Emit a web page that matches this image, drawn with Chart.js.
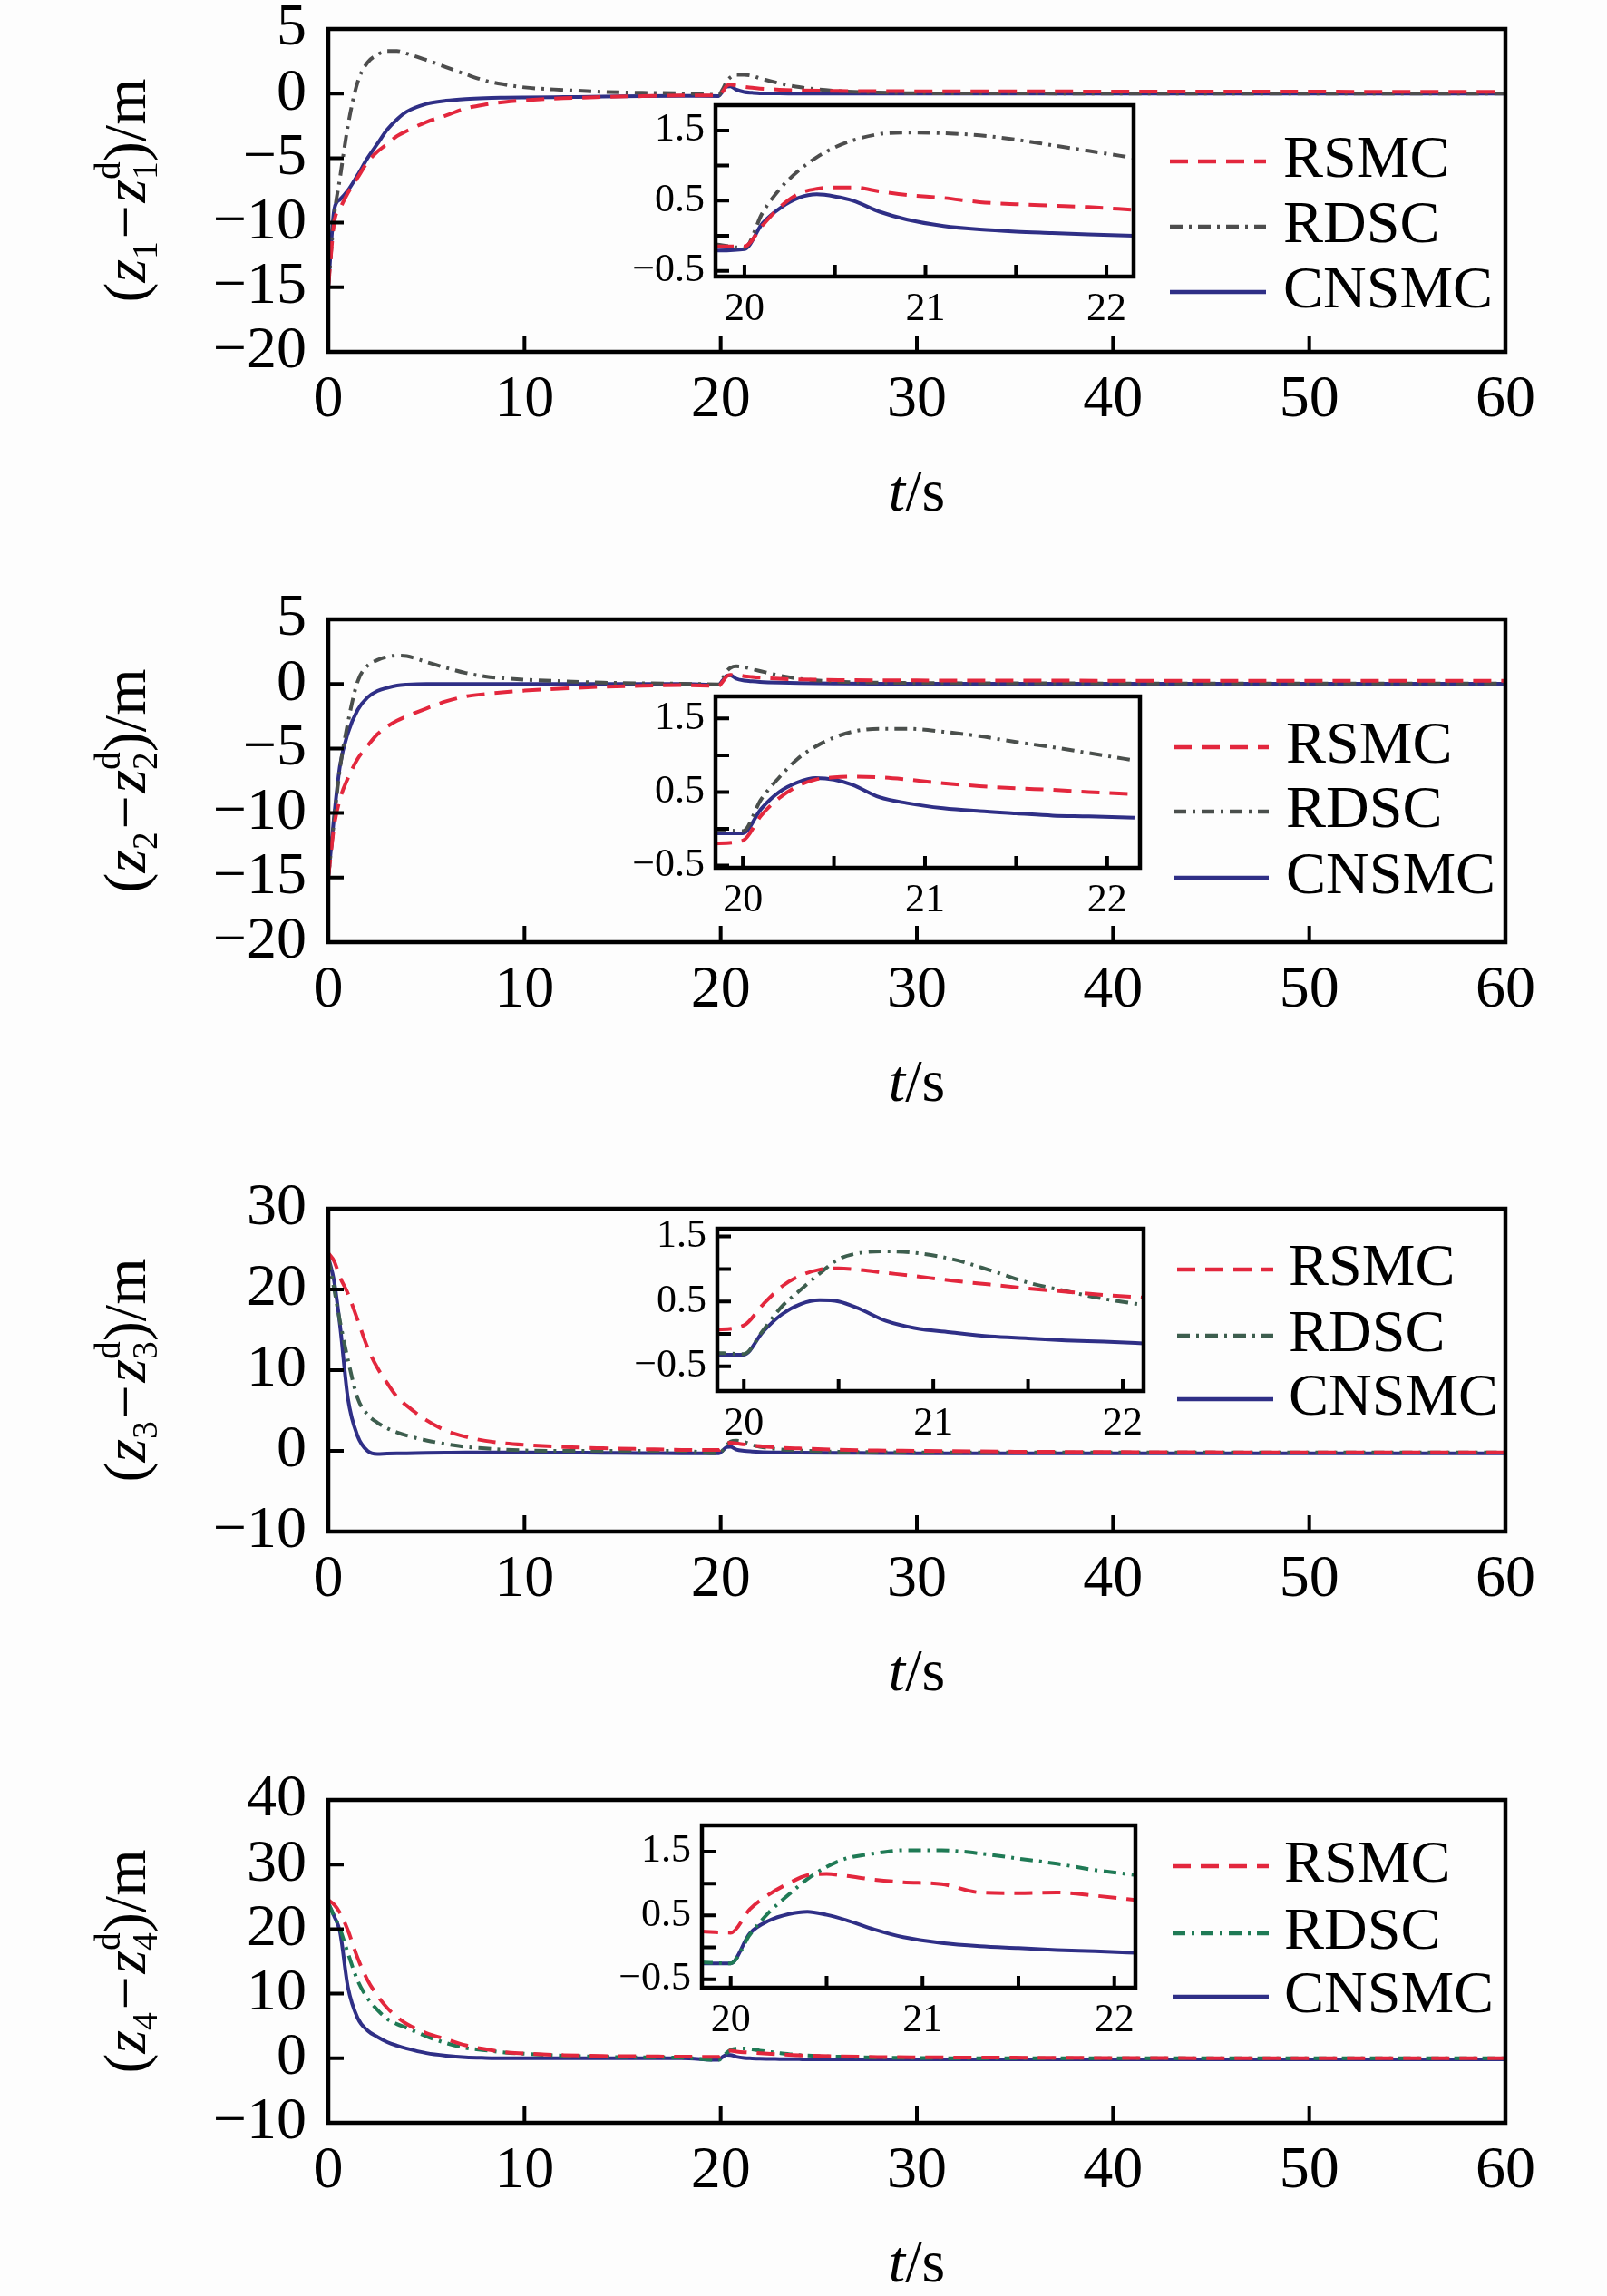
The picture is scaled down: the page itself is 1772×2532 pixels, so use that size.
<!DOCTYPE html>
<html>
<head>
<meta charset="utf-8">
<script src="https://cdn.jsdelivr.net/npm/chart.js@4.4.1/dist/chart.umd.min.js"></script>
<style>
html,body{margin:0;padding:0;background:#fdfdfd;}
#wrap{position:relative;width:1772px;height:2532px;overflow:hidden;background:#fdfdfd;}
#wrap canvas{position:absolute;}
</style>
</head>
<body>
<div id="wrap"></div>
<script>
// ---------------- DATA ----------------
const seriesNames = ['RSMC', 'RDSC', 'CNSMC'];
const tMain = [0, 0.3, 0.6, 1, 1.5, 2, 2.5, 3, 3.5, 4, 5, 6, 7, 8, 9, 10, 12, 14, 16, 18, 19.9, 20.1, 20.3, 20.5, 20.8, 21.2, 21.6, 22, 23, 24, 26, 28, 30, 35, 40, 45, 50, 55, 60];

const rsmc1 = [-15, -10, -8.9, -7.7, -6.5, -5.3, -4.5, -3.9, -3.3, -2.9, -2.2, -1.7, -1.15, -0.85, -0.65, -0.52, -0.36, -0.27, -0.2, -0.14, -0.15, 0.15, 0.6, 0.69, 0.62, 0.53, 0.45, 0.39, 0.3, 0.25, 0.2, 0.19, 0.18, 0.17, 0.16, 0.15, 0.15, 0.14, 0.14];
const rdsc1 = [-15, -9.5, -6.5, -2.5, 0.9, 2.4, 3.0, 3.3, 3.3, 3.1, 2.6, 2.05, 1.5, 1.0, 0.7, 0.48, 0.28, 0.13, 0.06, 0.02, -0.1, 0.33, 0.93, 1.26, 1.45, 1.45, 1.37, 1.18, 0.8, 0.5, 0.2, 0.08, 0.03, 0.01, 0, 0, 0, 0, 0];
const cnsmc1 = [-15, -9, -8.2, -7.5, -6.3, -5.0, -3.9, -2.8, -2.0, -1.4, -0.8, -0.55, -0.42, -0.35, -0.32, -0.3, -0.27, -0.24, -0.2, -0.18, -0.19, 0.18, 0.54, 0.56, 0.3, 0.12, 0.06, 0.02, 0.01, 0, 0, 0, 0, 0, 0, 0, 0, 0, 0];

const rsmc2 = [-15, -11, -8.9, -7.3, -5.8, -4.8, -3.9, -3.3, -2.85, -2.5, -1.9, -1.35, -0.97, -0.78, -0.63, -0.52, -0.35, -0.22, -0.15, -0.09, -0.16, 0.18, 0.58, 0.7, 0.69, 0.6, 0.54, 0.49, 0.4, 0.35, 0.3, 0.28, 0.27, 0.26, 0.25, 0.25, 0.25, 0.25, 0.25];
const rdsc2 = [-15, -10.5, -6.5, -3, 0.2, 1.4, 1.85, 2.1, 2.2, 2.15, 1.7, 1.25, 0.85, 0.58, 0.43, 0.33, 0.2, 0.1, 0.05, 0.02, -0.03, 0.4, 0.95, 1.24, 1.36, 1.3, 1.15, 1.0, 0.65, 0.4, 0.18, 0.1, 0.07, 0.05, 0.04, 0.04, 0.04, 0.04, 0.04];
const cnsmc2 = [-15, -10.2, -6.3, -3.8, -2.0, -1.05, -0.55, -0.3, -0.12, -0.05, 0, 0, 0, 0, 0, 0, 0, 0, 0, 0, -0.06, 0.27, 0.63, 0.67, 0.4, 0.26, 0.2, 0.16, 0.1, 0.06, 0.03, 0.02, 0.02, 0.02, 0.02, 0.02, 0.02, 0.02, 0.02];

const rsmc3 = [24.5, 23.5, 21.5, 19.5, 16.2, 12.8, 10.3, 8.4, 6.7, 5.6, 3.8, 2.5, 1.75, 1.25, 0.94, 0.75, 0.48, 0.33, 0.22, 0.12, 0.1, 0.45, 0.9, 1.0, 0.93, 0.8, 0.68, 0.58, 0.4, 0.3, 0.15, 0.05, 0, -0.1, -0.15, -0.18, -0.2, -0.2, -0.2];
const rdsc3 = [24, 20, 16, 11.3, 6.5, 4.5, 3.5, 2.8, 2.3, 1.9, 1.3, 0.85, 0.5, 0.3, 0.15, 0.05, 0, 0, 0, 0, -0.3, 0.05, 0.68, 1.15, 1.26, 1.1, 0.75, 0.5, 0.2, 0.05, -0.1, -0.15, -0.2, -0.2, -0.2, -0.2, -0.2, -0.2, -0.2];
const cnsmc3 = [24, 21, 15.5, 6.5, 1.8, 0, -0.4, -0.35, -0.32, -0.3, -0.25, -0.22, -0.2, -0.2, -0.2, -0.2, -0.22, -0.25, -0.28, -0.3, -0.32, 0.03, 0.46, 0.5, 0.15, 0, -0.08, -0.14, -0.2, -0.22, -0.25, -0.27, -0.3, -0.3, -0.3, -0.3, -0.3, -0.3, -0.3];

const rsmc4 = [24.5, 23.8, 22.5, 19.8, 15.5, 12.1, 9.7, 7.8, 6.4, 5.3, 3.9, 2.95, 2.0, 1.4, 0.93, 0.75, 0.48, 0.35, 0.3, 0.25, 0.23, 0.6, 1.0, 1.15, 1.04, 0.93, 0.86, 0.78, 0.6, 0.45, 0.3, 0.2, 0.15, 0.1, 0.05, 0.02, 0, 0, 0];
const rdsc4 = [24, 22, 20, 16.3, 12, 9.3, 7.5, 6.1, 5.3, 4.7, 3.4, 2.35, 1.6, 1.25, 0.9, 0.7, 0.4, 0.23, 0.15, 0.1, -0.25, 0.2, 0.82, 1.26, 1.48, 1.5, 1.36, 1.18, 0.8, 0.5, 0.25, 0.12, 0.05, 0, 0, 0, 0, 0, 0];
const cnsmc4 = [24, 22, 19.5, 11, 6.2, 4.3, 3.3, 2.5, 1.95, 1.5, 0.8, 0.4, 0.15, 0.05, 0, 0, 0, 0, 0, 0, -0.25, 0.22, 0.52, 0.51, 0.24, 0.05, -0.02, -0.07, -0.12, -0.15, -0.18, -0.18, -0.18, -0.18, -0.18, -0.18, -0.18, -0.18, -0.18];

// zoomed insets (t from 19.84 to 22.15 s)
const tInset = [19.84, 20.0, 20.1, 20.2, 20.3, 20.4, 20.5, 20.6, 20.75, 20.9, 21.1, 21.3, 21.5, 21.7, 21.9, 22.15];
const rsmc1i  = [-0.15, -0.15, 0.15, 0.42, 0.6, 0.67, 0.69, 0.69, 0.63, 0.58, 0.54, 0.48, 0.45, 0.43, 0.41, 0.37];
const rdsc1i  = [-0.12, -0.17, 0.33, 0.68, 0.93, 1.12, 1.26, 1.36, 1.45, 1.47, 1.46, 1.43, 1.37, 1.29, 1.21, 1.11];
const cnsmc1i = [-0.21, -0.19, 0.18, 0.4, 0.54, 0.59, 0.56, 0.5, 0.34, 0.23, 0.14, 0.09, 0.06, 0.04, 0.02, 0.0];
const rsmc2i  = [-0.2, -0.16, 0.18, 0.42, 0.58, 0.67, 0.7, 0.71, 0.7, 0.67, 0.62, 0.58, 0.55, 0.53, 0.5, 0.47];
const rdsc2i  = [-0.01, -0.03, 0.4, 0.7, 0.95, 1.12, 1.24, 1.32, 1.36, 1.36, 1.32, 1.26, 1.18, 1.11, 1.03, 0.93];
const cnsmc2i = [-0.06, -0.06, 0.27, 0.5, 0.63, 0.69, 0.67, 0.6, 0.43, 0.35, 0.28, 0.24, 0.21, 0.18, 0.17, 0.15];
const rsmc3i  = [0.06, 0.13, 0.45, 0.73, 0.9, 0.99, 1.01, 0.99, 0.94, 0.89, 0.82, 0.76, 0.7, 0.65, 0.6, 0.55];
const rdsc3i  = [-0.29, -0.31, 0.05, 0.42, 0.68, 0.93, 1.15, 1.24, 1.27, 1.25, 1.15, 0.98, 0.79, 0.66, 0.54, 0.43];
const cnsmc3i = [-0.32, -0.32, 0.03, 0.3, 0.46, 0.52, 0.5, 0.4, 0.2, 0.09, 0.02, -0.04, -0.07, -0.1, -0.12, -0.15];
const rsmc4i  = [0.25, 0.23, 0.6, 0.83, 1.0, 1.13, 1.15, 1.12, 1.06, 1.02, 0.99, 0.86, 0.85, 0.86, 0.81, 0.73];
const rdsc4i  = [-0.23, -0.25, 0.2, 0.55, 0.82, 1.07, 1.26, 1.39, 1.47, 1.52, 1.52, 1.47, 1.39, 1.31, 1.21, 1.12];
const cnsmc4i = [-0.25, -0.25, 0.22, 0.42, 0.52, 0.56, 0.51, 0.43, 0.28, 0.16, 0.07, 0.02, -0.01, -0.04, -0.06, -0.09];

// tick labels / tick marks
const xMainLabels = [0, 10, 20, 30, 40, 50, 60];
const xMainMarks = [10, 20, 30, 40, 50];
const yLabels12 = [-20, -15, -10, -5, 0, 5];
const yLabels3 = [-10, 0, 10, 20, 30];
const yLabels4 = [-10, 0, 10, 20, 30, 40];
const xInsetLabels = [20, 21, 22];
const xInsetMarks = [20, 20.5, 21, 21.5, 22];
const yInsetLabels = [-0.5, 0.5, 1.5];
const yInsetMarks = [-0.5, 0, 0.5, 1, 1.5];
const subIdx = ['1', '2', '3', '4'];

// ---------------- STYLE / LAYOUT ----------------
const FONT = '"Liberation Serif", "Times New Roman", serif';
const BIG = 66, SMALL = 44;
const C_RSMC = '#e3273d';
const C_CNSMC = '#2f2f86';
const C_RDSC = ['#4d4d4d', '#4a4f4c', '#3d5e4e', '#1f7a55'];
const DASH_RSMC = [20, 11];
const DASH_RDSC = [14, 7, 3, 7];

const L = { plotLeft: 362, plotRight: 1660, plotTops: [32, 683, 1333, 1985], plotH: 356, padTop: 80, xAxisH: 230 };
const INSETS = [
  { l: 789, r: 1250, t: 116, b: 305, xmin: 19.84, xmax: 22.15, ymin: -0.58, ymax: 1.86 },
  { l: 789, r: 1257, t: 768, b: 957, xmin: 19.85, xmax: 22.18, ymin: -0.53, ymax: 1.80 },
  { l: 791, r: 1261, t: 1355, b: 1534, xmin: 19.86, xmax: 22.11, ymin: -0.88, ymax: 1.62 },
  { l: 774, r: 1252, t: 2013, b: 2192, xmin: 19.85, xmax: 22.11, ymin: -0.63, ymax: 1.91 }
];
const LEG = [
  { x0: 1290, x1: 1396, tx: 1415, offs: [146, 218, 290] },
  { x0: 1294, x1: 1399, tx: 1418, offs: [141, 212, 285] },
  { x0: 1298, x1: 1404, tx: 1421, offs: [67, 140, 210] },
  { x0: 1293, x1: 1399, tx: 1416, offs: [73, 147, 217] }
];

const PANELS = [
  { main: [rsmc1, rdsc1, cnsmc1], inset: [rsmc1i, rdsc1i, cnsmc1i], ymin: -20, ymax: 5, yLabels: yLabels12, yMarks: [-15, -10, -5, 0] },
  { main: [rsmc2, rdsc2, cnsmc2], inset: [rsmc2i, rdsc2i, cnsmc2i], ymin: -20, ymax: 5, yLabels: yLabels12, yMarks: [-15, -10, -5, 0] },
  { main: [rsmc3, rdsc3, cnsmc3], inset: [rsmc3i, rdsc3i, cnsmc3i], ymin: -10, ymax: 30, yLabels: yLabels3, yMarks: [0, 10, 20] },
  { main: [rsmc4, rdsc4, cnsmc4], inset: [rsmc4i, rdsc4i, cnsmc4i], ymin: -10, ymax: 40, yLabels: yLabels4, yMarks: [0, 10, 20, 30] }
];

function fmt(v) { return v < 0 ? '\u2212' + String(-v) : String(v); }

function makeDatasets(t, arrs, pi) {
  const styles = [
    { color: C_RSMC, dash: DASH_RSMC },
    { color: C_RDSC[pi], dash: DASH_RDSC },
    { color: C_CNSMC, dash: [] }
  ];
  return arrs.map((vals, k) => ({
    label: seriesNames[k],
    data: t.map((x, j) => ({ x: x, y: vals[j] })),
    borderColor: styles[k].color,
    backgroundColor: styles[k].color,
    borderDash: styles[k].dash,
    borderWidth: 4,
    pointRadius: 0,
    fill: false,
    cubicInterpolationMode: 'monotone'
  }));
}

// frame + inward tick marks
const framePlugin = {
  id: 'frame',
  beforeDatasetsDraw(chart, args, o) {
    if (!o.fill) return;
    const a = chart.chartArea, ctx = chart.ctx;
    ctx.save();
    ctx.fillStyle = o.fill;
    ctx.fillRect(a.left, a.top, a.right - a.left, a.bottom - a.top);
    ctx.restore();
  },
  afterDraw(chart, args, o) {
    const a = chart.chartArea, ctx = chart.ctx;
    const x = chart.scales.x, y = chart.scales.y;
    ctx.save();
    ctx.strokeStyle = '#000';
    ctx.setLineDash([]);
    ctx.lineWidth = o.tw;
    ctx.beginPath();
    o.xMarks.forEach(v => { const px = x.getPixelForValue(v); ctx.moveTo(px, a.bottom); ctx.lineTo(px, a.bottom - o.tlx); });
    o.yMarks.forEach(v => { const py = y.getPixelForValue(v); ctx.moveTo(a.left, py); ctx.lineTo(a.left + o.tly, py); });
    ctx.stroke();
    ctx.lineWidth = o.lw;
    ctx.strokeRect(a.left, a.top, a.right - a.left, a.bottom - a.top);
    ctx.restore();
  }
};

function drawSegs(ctx, segs, size, startX, baseY) {
  let x = startX;
  segs.forEach(s => {
    const fs = size * (s.s || 1);
    const f = (s.it ? 'italic ' : '') + fs + 'px ' + FONT;
    if (s.stack) {
      let w = 0;
      s.stack.forEach(q => {
        ctx.font = (q.it ? 'italic ' : '') + fs + 'px ' + FONT;
        ctx.fillText(q.t, x, baseY + q.dy * size);
        w = Math.max(w, ctx.measureText(q.t).width);
      });
      x += w;
    } else {
      ctx.font = f;
      x += (s.pl || 0) * size;
      ctx.fillText(s.t, x, baseY + (s.dy || 0) * size);
      x += ctx.measureText(s.t).width + (s.pr || 0) * size;
    }
  });
  return x - startX;
}

function ySegs(i) {
  return [
    { t: '(' }, { t: 'z', it: true }, { t: i, s: 0.6, dy: 0.2 },
    { t: '\u2212', pl: 0.04, pr: 0.04 },
    { t: 'z', it: true },
    { s: 0.6, stack: [{ t: i, dy: 0.2 }, { t: 'd', dy: -0.42 }] },
    { t: ')' }, { t: '/m' }
  ];
}

// legend, axis titles
const decorPlugin = {
  id: 'decor',
  afterDraw(chart, args, o) {
    const a = chart.chartArea, ctx = chart.ctx;
    ctx.save();
    ctx.fillStyle = '#000';
    ctx.textBaseline = 'alphabetic';
    ctx.textAlign = 'left';
    const m = document.createElement('canvas').getContext('2d');
    // y title (rotated)
    const segs = ySegs(o.idx);
    const w = drawSegs(m, segs, BIG, 0, 0);
    ctx.save();
    ctx.translate(o.ycx, (a.top + a.bottom) / 2);
    ctx.rotate(-Math.PI / 2);
    drawSegs(ctx, segs, BIG, -w / 2, BIG * 0.3);
    ctx.restore();
    // x title t/s
    const xs = [{ t: 't', it: true }, { t: '/s' }];
    const w2 = drawSegs(m, xs, BIG, 0, 0);
    drawSegs(ctx, xs, BIG, (a.left + a.right) / 2 - w2 / 2, a.bottom + o.xty + BIG * 0.33);
    // legend
    const lg = o.leg;
    chart.data.datasets.forEach((ds, k) => {
      const yy = a.top + lg.offs[k];
      ctx.save();
      ctx.strokeStyle = ds.borderColor;
      ctx.lineWidth = 4.5;
      ctx.setLineDash(ds.borderDash || []);
      ctx.beginPath();
      ctx.moveTo(lg.x0, yy);
      ctx.lineTo(lg.x1, yy);
      ctx.stroke();
      ctx.restore();
      ctx.font = BIG + 'px ' + FONT;
      ctx.textBaseline = 'middle';
      ctx.fillText(ds.label, lg.tx, yy);
    });
    ctx.restore();
  }
};

const wrap = document.getElementById('wrap');
function makeCanvas(left, top, w, h) {
  const c = document.createElement('canvas');
  c.width = w; c.height = h;
  c.style.left = left + 'px'; c.style.top = top + 'px';
  c.style.width = w + 'px'; c.style.height = h + 'px';
  wrap.appendChild(c);
  return c;
}

PANELS.forEach((p, i) => {
  const top = L.plotTops[i];
  const c = makeCanvas(0, top - L.padTop, 1772, L.padTop + L.plotH + L.xAxisH);
  new Chart(c, {
    type: 'line',
    data: { datasets: makeDatasets(tMain, p.main, i) },
    options: {
      responsive: false, animation: false, devicePixelRatio: 1,
      layout: { autoPadding: false, padding: { left: 0, top: L.padTop, right: 1772 - L.plotRight, bottom: 0 } },
      plugins: {
        legend: { display: false }, tooltip: { enabled: false },
        frame: { lw: 4.5, tw: 4, tlx: 18, tly: 17, xMarks: xMainMarks, yMarks: p.yMarks },
        decor: { idx: subIdx[i], ycx: 140, xty: 153, leg: LEG[i] }
      },
      scales: {
        x: {
          type: 'linear', min: 0, max: 60,
          grid: { display: false, drawTicks: false }, border: { display: false },
          afterBuildTicks: s => { s.ticks = xMainLabels.map(v => ({ value: v })); },
          ticks: { font: { family: FONT, size: BIG }, color: '#000', padding: 14, maxRotation: 0, autoSkip: false, callback: v => fmt(v) },
          afterFit: s => { s.height = L.xAxisH; }
        },
        y: {
          type: 'linear', min: p.ymin, max: p.ymax,
          grid: { display: false, drawTicks: false }, border: { display: false },
          afterBuildTicks: s => { s.ticks = p.yLabels.map(v => ({ value: v })); },
          ticks: { font: { family: FONT, size: BIG }, color: '#000', padding: 24, autoSkip: false, callback: v => fmt(v) },
          afterFit: s => { s.width = L.plotLeft; }
        }
      }
    },
    plugins: [framePlugin, decorPlugin]
  });

  // inset
  const q = INSETS[i];
  const yw = 110, pt = 50, pr = 45, xh = 75;
  const ci = makeCanvas(q.l - yw, q.t - pt, yw + (q.r - q.l) + pr, pt + (q.b - q.t) + xh);
  new Chart(ci, {
    type: 'line',
    data: { datasets: makeDatasets(tInset, p.inset, i) },
    options: {
      responsive: false, animation: false, devicePixelRatio: 1,
      layout: { autoPadding: false, padding: { left: 0, top: pt, right: pr, bottom: 0 } },
      plugins: {
        legend: { display: false }, tooltip: { enabled: false },
        frame: { fill: '#fdfdfd', lw: 4.5, tw: 4, tlx: 13, tly: 15, xMarks: xInsetMarks, yMarks: yInsetMarks }
      },
      scales: {
        x: {
          type: 'linear', min: q.xmin, max: q.xmax,
          grid: { display: false, drawTicks: false }, border: { display: false },
          afterBuildTicks: s => { s.ticks = xInsetLabels.map(v => ({ value: v })); },
          ticks: { font: { family: FONT, size: SMALL }, color: '#000', padding: 10, maxRotation: 0, autoSkip: false, callback: v => fmt(v) },
          afterFit: s => { s.height = xh; }
        },
        y: {
          type: 'linear', min: q.ymin, max: q.ymax,
          grid: { display: false, drawTicks: false }, border: { display: false },
          afterBuildTicks: s => { s.ticks = yInsetLabels.map(v => ({ value: v })); },
          ticks: { font: { family: FONT, size: SMALL }, color: '#000', padding: 12, autoSkip: false, callback: v => fmt(v) },
          afterFit: s => { s.width = yw; }
        }
      }
    },
    plugins: [framePlugin]
  });
});
</script>
</body>
</html>
